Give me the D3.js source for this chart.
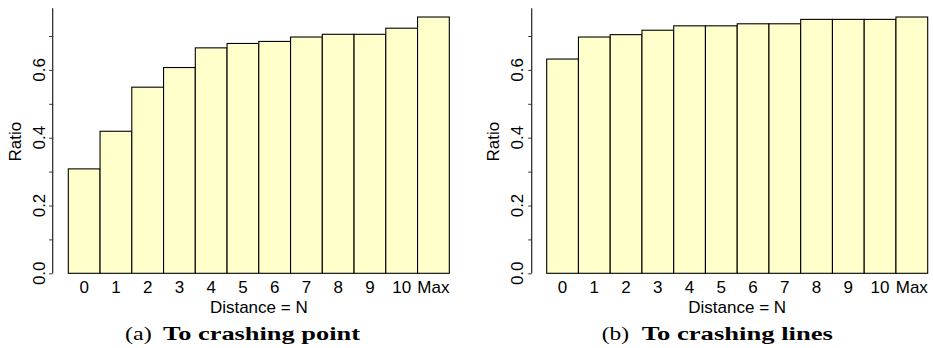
<!DOCTYPE html>
<html>
<head>
<meta charset="utf-8">
<script src="https://cdn.jsdelivr.net/npm/d3@7"></script>
<style>
  html, body { margin: 0; padding: 0; background: #fff; }
  svg { display: block; }
</style>
</head>
<body>
<svg id="chart" width="933" height="348"></svg>
<script>
const categories = ["0", "1", "2", "3", "4", "5", "6", "7", "8", "9", "10", "Max"];
const crashingPoint = [0.308, 0.419, 0.549, 0.607, 0.665, 0.678, 0.684, 0.697, 0.705, 0.705, 0.723, 0.756];
const crashingLines = [0.632, 0.697, 0.704, 0.717, 0.730, 0.730, 0.736, 0.736, 0.749, 0.749, 0.749, 0.756];
const yTicks = [0, 0.1, 0.2, 0.3, 0.4, 0.5, 0.6, 0.7];
const yTickLabels = ["0.0", "", "0.2", "", "0.4", "", "0.6", ""];
const xTitle = "Distance = N";
const yTitle = "Ratio";
const captionPrefixes = ["(a)", "(b)"];
const captionTitles = ["To crashing point", "To crashing lines"];

const svg = d3.select("#chart");
const sans = "'Liberation Sans', Arial, Helvetica, sans-serif";
const serif = "'Liberation Serif', 'DejaVu Serif', serif";
const fs = 17;

const panels = [
  { values: crashingPoint, axisX: 52.7, barL: 68.3, barR: 449.3, tickLabelX: 39, titleX: 15,
    capA: [125, 151.7], capB: [163, 360] },
  { values: crashingLines, axisX: 531.7, barL: 546.7, barR: 927.7, tickLabelX: 516.8, titleX: 492.7,
    capA: [601.7, 629], capB: [641.7, 833] }
];

const y = d3.scaleLinear().domain([0, 0.7]).range([273.3, 36]);
const axisTop = 8.3;

panels.forEach((p, i) => {
  const g = svg.append("g");
  const x = d3.scaleBand().domain(categories).range([p.barL, p.barR]).padding(0);

  g.selectAll("rect.bar").data(p.values).enter().append("rect")
    .attr("class", "bar")
    .attr("x", (d, j) => x(categories[j]))
    .attr("y", d => y(d))
    .attr("width", x.bandwidth())
    .attr("height", d => y(0) - y(d))
    .attr("fill", "#ffffcc")
    .attr("stroke", "#000")
    .attr("stroke-width", 1.1);

  const ax = g.append("g")
    .attr("transform", `translate(${p.axisX},0)`)
    .call(d3.axisLeft(y).tickValues(yTicks).tickSize(3.5).tickFormat(() => ""));
  ax.select(".domain").remove();
  ax.selectAll(".tick line").attr("stroke", "#333");
  ax.append("line")
    .attr("x1", 0).attr("x2", 0)
    .attr("y1", y(0)).attr("y2", axisTop)
    .attr("stroke", "#222").attr("stroke-width", 1.2);

  g.selectAll("text.ytl").data(yTicks).enter().append("text")
    .attr("class", "ytl")
    .attr("transform", d => `translate(${p.tickLabelX},${y(d)}) rotate(-90)`)
    .attr("text-anchor", "middle")
    .attr("dy", "0.35em")
    .attr("font-family", sans)
    .attr("font-size", fs)
    .attr("fill", "#000")
    .text((d, j) => yTickLabels[j]);

  g.append("text")
    .attr("transform", `translate(${p.titleX},141.7) rotate(-90)`)
    .attr("text-anchor", "middle")
    .attr("dy", "0.35em")
    .attr("font-family", sans)
    .attr("font-size", fs)
    .text(yTitle);

  g.selectAll("text.xtl").data(categories).enter().append("text")
    .attr("class", "xtl")
    .attr("x", d => x(d) + x.bandwidth() / 2)
    .attr("y", 287)
    .attr("dy", "0.35em")
    .attr("text-anchor", "middle")
    .attr("font-family", sans)
    .attr("font-size", fs)
    .text(d => d);

  g.append("text")
    .attr("x", (p.barL + p.barR) / 2)
    .attr("y", 307)
    .attr("dy", "0.35em")
    .attr("text-anchor", "middle")
    .attr("font-family", sans)
    .attr("font-size", fs)
    .text(xTitle);

  g.append("text")
    .attr("x", p.capA[0]).attr("y", 339.5)
    .attr("font-family", serif)
    .attr("font-size", 19)
    .attr("textLength", p.capA[1] - p.capA[0])
    .attr("lengthAdjust", "spacingAndGlyphs")
    .text(captionPrefixes[i]);
  g.append("text")
    .attr("x", p.capB[0]).attr("y", 339.5)
    .attr("font-family", serif)
    .attr("font-weight", "bold")
    .attr("font-size", 19)
    .attr("textLength", p.capB[1] - p.capB[0])
    .attr("lengthAdjust", "spacingAndGlyphs")
    .text(captionTitles[i]);
});
</script>
</body>
</html>
